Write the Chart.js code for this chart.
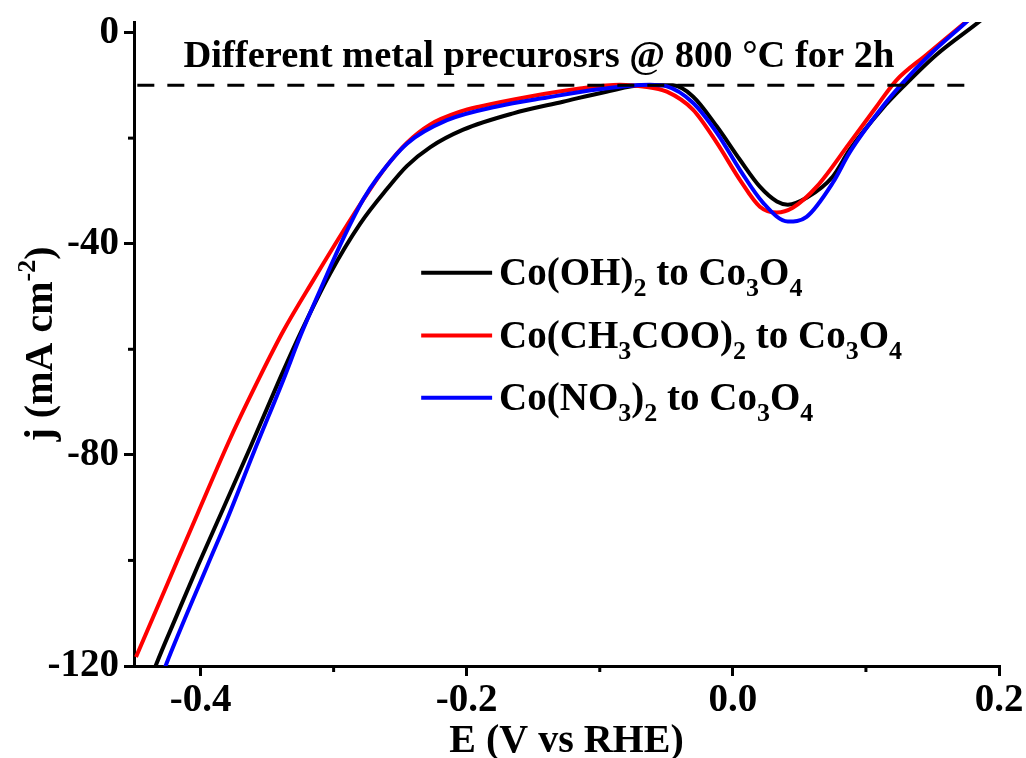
<!DOCTYPE html>
<html>
<head>
<meta charset="utf-8">
<script src="https://cdn.jsdelivr.net/npm/chart.js@4.4.0/dist/chart.umd.min.js"></script>
<style>
html,body{margin:0;padding:0;background:#fff;}
#wrap{width:1026px;height:758px;}
canvas{display:block;}
</style>
</head>
<body>
<div id="wrap"><canvas id="c" width="1026" height="758"></canvas></div>
<script>
// ---------------- data ----------------
const cohE = [-0.4360,-0.4338,-0.418,-0.402,-0.383,-0.3625,-0.342,-0.325,-0.3025,-0.280,-0.2598,-0.245,-0.2273,-0.2026,-0.165,-0.1276,-0.095,-0.0676,-0.045,-0.030,-0.012,0.0053,0.0203,0.0331,0.0413,0.0554,0.075,0.0878,0.112,0.129,0.153,0.1853,0.192];
const cohJ = [-121.5,-120,-110.5,-101,-90.2,-78.5,-66.5,-57.0,-45.6,-36.2,-29.6,-25.3,-21.7,-18.4,-15.3,-13.1,-11.2,-10.0,-10.0,-12.1,-17.8,-24.1,-29.2,-32,-32.6,-31.3,-27.3,-22.2,-14.5,-10,-4.2,2.1,3.5];

const acE = [-0.4485,-0.425,-0.402,-0.3775,-0.355,-0.3377,-0.315,-0.2927,-0.275,-0.2602,-0.245,-0.2273,-0.205,-0.1899,-0.1524,-0.115,-0.085,-0.0676,-0.0496,-0.030,-0.012,0.0053,0.0203,0.0331,0.045,0.063,0.0878,0.108,0.123,0.1455,0.175,0.182];
const acJ = [-118.3,-104.5,-91,-76.8,-65.0,-56.5,-46.8,-37.6,-30.6,-25.3,-20.9,-17.4,-15.0,-14.0,-12.1,-10.6,-9.9,-10.2,-11.2,-14.6,-20.9,-27.9,-33,-34.1,-33.2,-29.2,-20.9,-14,-9,-4.2,2,3.5];

const no3E = [-0.4285,-0.4263,-0.3949,-0.3797,-0.360,-0.3378,-0.325,-0.3077,-0.2927,-0.2777,-0.267,-0.2447,-0.2148,-0.1773,-0.1397,-0.1022,-0.0624,-0.0496,-0.030,-0.012,0.0053,0.0226,0.0413,0.0554,0.075,0.0878,0.1126,0.126,0.148,0.1755,0.182];
const no3J = [-121.5,-120,-101,-92.0,-79.5,-65.8,-57.5,-47.4,-39.0,-31.6,-27.5,-21.0,-16.6,-14,-12.3,-10.8,-9.9,-10.2,-13.3,-19,-26,-32.2,-35.8,-34.9,-28.5,-22.7,-14,-10,-4.2,2,3.5];

const refE = [-0.4475, 0.176];
const refJ = [-10, -10];

const xMajor = [-0.4, -0.2, 0.0, 0.2];
const xMinor = [-0.3, -0.1, 0.1];
const xTickLabels = ['-0.4', '-0.2', '0.0', '0.2'];
const yMajor = [-120, -80, -40, 0];
const yMinor = [-100, -60, -20];
const yTickLabels = ['-120', '-80', '-40', '0'];

const xTitle = 'E (V vs RHE)';
const yTitleParts = [['j (mA cm', 0], ['-2', 1], [')', 0]];
const noteText = 'Different metal precurosrs @ 800 °C for 2h';
const legendColors = ['#000000', '#ff0000', '#0000ff'];
const legendLabels = [
  [['Co(OH)',0],['2',1],[' to Co',0],['3',1],['O',0],['4',1]],
  [['Co(CH',0],['3',1],['COO)',0],['2',1],[' to Co',0],['3',1],['O',0],['4',1]],
  [['Co(NO',0],['3',1],[')',0],['2',1],[' to Co',0],['3',1],['O',0],['4',1]]
];

// ---------------- helpers ----------------
const FAM = '"Liberation Serif", "Times New Roman", serif';
const zip = (xs, ys) => xs.map((x, i) => ({x: x, y: ys[i]}));
const F = (s) => 'bold ' + s + 'px ' + FAM;

function drawRich(ctx, parts, x, y, size, subSize, subDy) {
  let cx = x;
  parts.forEach(([t, sub]) => {
    ctx.font = F(sub ? subSize : size);
    ctx.fillText(t, cx, y + (sub ? subDy : 0));
    cx += ctx.measureText(t).width;
  });
  return cx;
}
function richWidth(ctx, parts, size, subSize) {
  let w = 0;
  parts.forEach(([t, sub]) => { ctx.font = F(sub ? subSize : size); w += ctx.measureText(t).width; });
  return w;
}

const decor = {
  id: 'decor',
  afterDraw(chart) {
    const ctx = chart.ctx, xs = chart.scales.x, ys = chart.scales.y, a = chart.chartArea;
    ctx.save();
    ctx.strokeStyle = '#000'; ctx.lineWidth = 3;
    xMinor.forEach(v => { const p = xs.getPixelForValue(v); ctx.beginPath(); ctx.moveTo(p, a.bottom); ctx.lineTo(p, a.bottom + 6); ctx.stroke(); });
    yMinor.forEach(v => { const p = ys.getPixelForValue(v); ctx.beginPath(); ctx.moveTo(a.left, p); ctx.lineTo(a.left - 6, p); ctx.stroke(); });

    ctx.fillStyle = '#000';
    ctx.textBaseline = 'alphabetic';
    // annotation text
    ctx.textAlign = 'left';
    ctx.font = F(38.5);
    ctx.fillText(noteText, xs.getPixelForValue(-0.4128), ys.getPixelForValue(-6.6));

    // x title
    ctx.textAlign = 'center';
    ctx.font = F(40);
    ctx.fillText(xTitle, (a.left + a.right) / 2, 752);

    // y title rotated
    ctx.textAlign = 'left';
    const w = richWidth(ctx, yTitleParts, 40, 26);
    ctx.save();
    ctx.translate(52, (a.top + a.bottom) / 2);
    ctx.rotate(-Math.PI / 2);
    drawRich(ctx, yTitleParts, -w / 2, 0, 40, 26, -17);
    ctx.restore();

    // legend
    const lx0 = xs.getPixelForValue(-0.2342), lx1 = xs.getPixelForValue(-0.1809);
    const rows = [-45.5, -57.4, -69.2];
    legendLabels.forEach((parts, i) => {
      const y = ys.getPixelForValue(rows[i]);
      ctx.strokeStyle = legendColors[i]; ctx.lineWidth = 4;
      ctx.beginPath(); ctx.moveTo(lx0, y); ctx.lineTo(lx1, y); ctx.stroke();
      ctx.fillStyle = '#000';
      drawRich(ctx, parts, lx1 + 7, y + 12, 39, 26, 11);
    });
    ctx.restore();
  }
};

const ds = (label, xsArr, ysArr, color, order) => ({
  label, data: zip(xsArr, ysArr), borderColor: color, backgroundColor: color,
  borderWidth: 4, pointRadius: 0, showLine: true, fill: false,
  cubicInterpolationMode: 'monotone', order
});

new Chart(document.getElementById('c'), {
  type: 'scatter',
  data: {
    datasets: [
      ds('Co(OH)2 to Co3O4', cohE, cohJ, legendColors[0], 3),
      ds('Co(CH3COO)2 to Co3O4', acE, acJ, legendColors[1], 2),
      ds('Co(NO3)2 to Co3O4', no3E, no3J, legendColors[2], 1),
      { label: 'ref', data: zip(refE, refJ), borderColor: '#000', borderWidth: 3, borderDash: [17, 13],
        pointRadius: 0, showLine: true, fill: false, order: 0 }
    ]
  },
  options: {
    responsive: false,
    animation: false,
    layout: { padding: { top: 22, right: 27, left: 0, bottom: 0 } },
    plugins: { legend: { display: false }, tooltip: { enabled: false } },
    scales: {
      x: {
        type: 'linear', min: -0.45, max: 0.2,
        afterBuildTicks: s => { s.ticks = xMajor.map(v => ({ value: v })); },
        afterFit: s => { s.height = 92; s.paddingLeft = 0; s.paddingRight = 0; },
        ticks: { callback: (v) => xTickLabels[xMajor.findIndex(m => Math.abs(m - v) < 1e-9)],
          font: { family: FAM, weight: 'bold', size: 39 }, color: '#000', padding: 2, maxRotation: 0, autoSkip: false },
        grid: { drawOnChartArea: false, drawTicks: true, tickLength: 10, lineWidth: 3, color: '#000' },
        border: { display: true, color: '#000', width: 3 }
      },
      y: {
        type: 'linear', min: -120, max: 2,
        afterBuildTicks: s => { s.ticks = yMajor.map(v => ({ value: v })); },
        afterFit: s => { s.width = 134; s.paddingTop = 0; s.paddingBottom = 0; },
        ticks: { callback: (v) => yTickLabels[yMajor.findIndex(m => Math.abs(m - v) < 1e-9)],
          font: { family: FAM, weight: 'bold', size: 39 }, color: '#000', padding: 5, autoSkip: false },
        grid: { drawOnChartArea: false, drawTicks: true, tickLength: 10, lineWidth: 3, color: '#000' },
        border: { display: true, color: '#000', width: 3 }
      }
    }
  },
  plugins: [decor]
});
</script>
</body>
</html>
